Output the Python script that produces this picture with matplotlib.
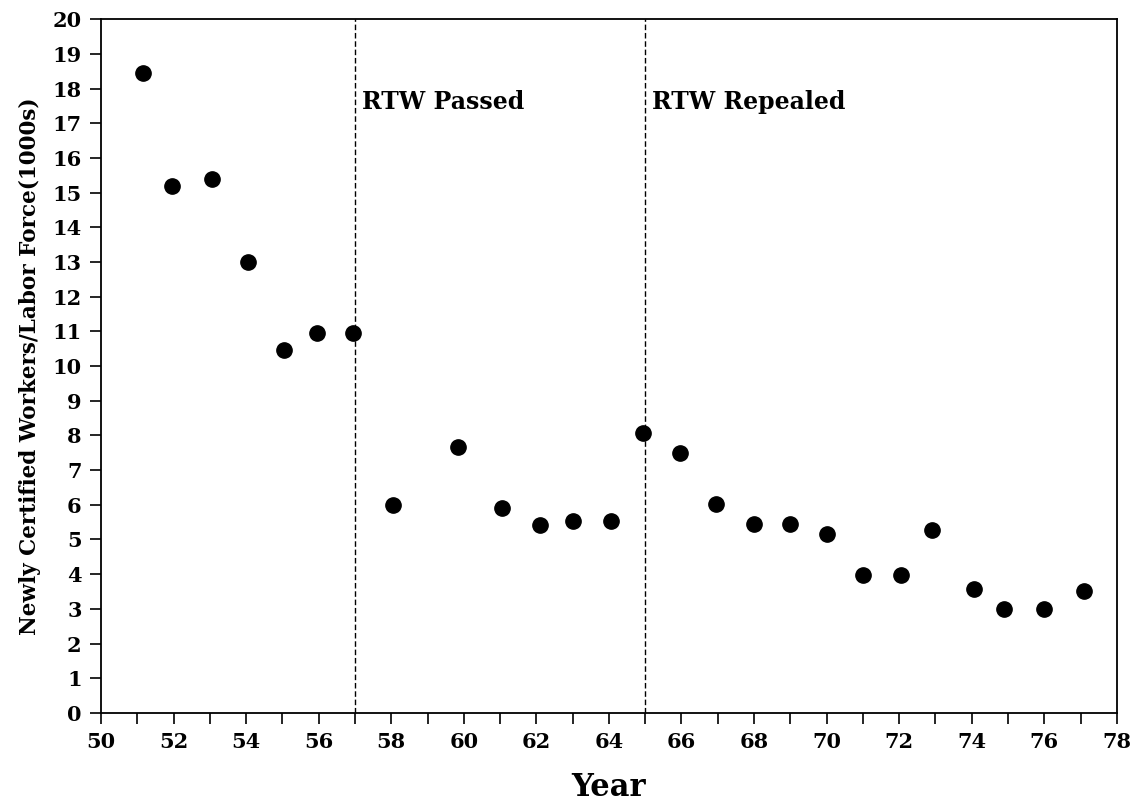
import matplotlib
matplotlib.use("Agg")
import matplotlib.pyplot as plt
from matplotlib.ticker import MultipleLocator

# datos
anios = [51.15, 51.95, 53.05, 54.05, 55.05, 55.95, 56.95, 58.05, 59.85, 61.05,
         62.1, 63.0, 64.05, 64.95, 65.95, 66.95, 68.0, 69.0, 70.0, 71.0,
         72.05, 72.9, 74.05, 74.9, 76.0, 77.1]
trabajadores = [18.45, 15.2, 15.4, 13.0, 10.45, 10.95, 10.95, 6.0, 7.67, 5.9,
                5.42, 5.53, 5.53, 8.08, 7.5, 6.03, 5.44, 5.44, 5.15, 3.97,
                3.97, 5.27, 3.58, 3.0, 3.0, 3.5]
eventos = [57, 65]
etiquetas_eventos = ["RTW Passed", "RTW Repealed"]

fuente = "DejaVu Serif"

fig = plt.figure(figsize=(11.35, 8.01), dpi=100)
ax = fig.add_axes([0.089, 0.110, 0.895, 0.866])

ax.plot(anios, trabajadores, "o", color="black", markersize=11)

for x, txt in zip(eventos, etiquetas_eventos):
    ax.axvline(x, color="black", linestyle=(0, (4, 2)), linewidth=1)
    ax.text(x + 0.2, 17.6, txt, fontsize=17, fontweight="bold",
            family=fuente, va="center", ha="left")

ax.set_xlim(50, 78)
ax.set_ylim(0, 20)
ax.xaxis.set_major_locator(MultipleLocator(2))
ax.xaxis.set_minor_locator(MultipleLocator(1))
ax.yaxis.set_major_locator(MultipleLocator(1))
ax.tick_params(axis="both", which="both", direction="out", length=8,
               width=1.2, labelsize=15, pad=6)

for lab in ax.get_xticklabels() + ax.get_yticklabels():
    lab.set_family(fuente)
    lab.set_fontweight("bold")

for s in ax.spines.values():
    s.set_linewidth(1.3)

ax.set_xlabel("Year", fontsize=22, fontweight="bold", family=fuente, labelpad=14)
ax.set_ylabel("Newly Certified Workers/Labor Force(1000s)", fontsize=15.5,
              fontweight="bold", family=fuente, labelpad=8)

fig.savefig("out.png", dpi=100)
